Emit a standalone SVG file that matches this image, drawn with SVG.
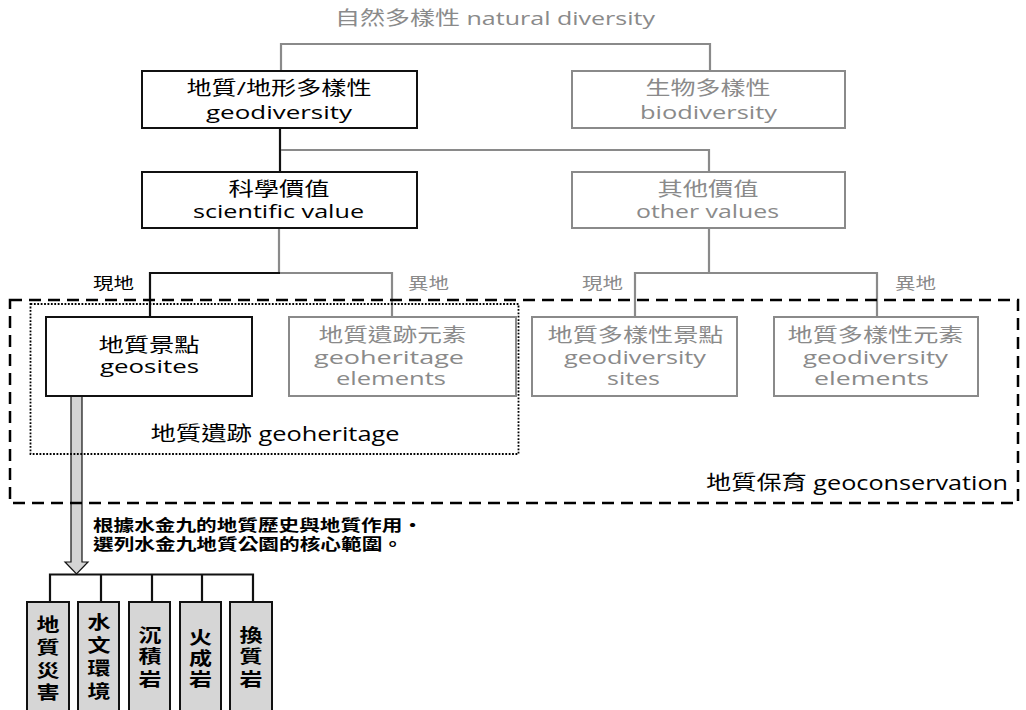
<svg xmlns="http://www.w3.org/2000/svg" width="1026" height="710" viewBox="0 0 1026 710">
<style>
text{font-family:"Open Sans","Noto Sans CJK TC",sans-serif;}
.c{text-anchor:middle;}
.t{font-size:19px;}
.g{fill:#8a8a8a;}
.k{fill:#000;}
.s{font-size:16px;}
.b{font-weight:bold;font-family:"Noto Sans CJK TC","Noto Sans",sans-serif;}
.v{font-size:18px;font-weight:bold;font-family:"Noto Sans CJK TC",sans-serif;text-anchor:middle;}
.bx{fill:#fff;stroke-width:2;}
.bk{stroke:#111;}
.gr{stroke:#8a8a8a;}
.ln{fill:none;stroke-width:2.2;}
.cat{fill:#d6d6d6;stroke:#111;stroke-width:2;}
</style>
<rect width="1026" height="710" fill="#fff"/>
<g id="connectors">
<path class="ln gr" d="M281 71 V44 H710 V71"/>
<path class="ln bk" d="M280 128 V172"/>
<path class="ln gr" d="M281 150 H709 V172"/>
<path class="ln gr" d="M279 228 V273 H392 V317"/>
<path class="ln bk" d="M280 273 H150 V317"/>
<path class="ln gr" d="M709 228 V273 M635 317 V273 H877 V317"/>
<path d="M71 396 V562 H65 L76.5 574 L88 562 H82 V396 Z" fill="#d4d4d4" stroke="#111" stroke-width="1.2"/>
<path class="ln bk" stroke-width="2.6" d="M50 602 V574.5 H253 V602 M101 574.5 V602 M152 574.5 V602 M202 574.5 V602"/>
</g>
<g id="title"><text class="g c" x="495" y="25" font-size="19" textLength="320" lengthAdjust="spacingAndGlyphs">自然多樣性 natural diversity</text></g>
<g id="geoconservation">
<rect x="10" y="300" width="1008" height="203" fill="none" stroke="#000" stroke-width="2.5" stroke-dasharray="12,7"/>
<text class="k c" x="857" y="490" font-size="20" textLength="302" lengthAdjust="spacingAndGlyphs">地質保育 geoconservation</text>
</g>
<g id="geoheritage">
<rect x="30.5" y="304" width="488" height="150" fill="none" stroke="#000" stroke-width="1.8" stroke-dasharray="1.8,1.6"/>
<text class="k c" x="275" y="441" font-size="20" textLength="249" lengthAdjust="spacingAndGlyphs">地質遺跡 geoheritage</text>
</g>
<g id="geodiversity">
<rect class="bx bk" x="142" y="71" width="275" height="57"/>
<text class="k c t" x="279" y="95" textLength="185" lengthAdjust="spacingAndGlyphs">地質/地形多樣性</text>
<text class="k c t" x="279" y="119" textLength="146" lengthAdjust="spacingAndGlyphs">geodiversity</text>
</g>
<g id="biodiversity">
<rect class="bx gr" x="572" y="71" width="273" height="57"/>
<text class="g c t" x="708" y="95" textLength="125" lengthAdjust="spacingAndGlyphs">生物多樣性</text>
<text class="g c t" x="708.5" y="119" textLength="137" lengthAdjust="spacingAndGlyphs">biodiversity</text>
</g>
<g id="scientific">
<rect class="bx bk" x="142" y="172" width="275" height="56"/>
<text class="k c t" x="279" y="196" textLength="101" lengthAdjust="spacingAndGlyphs">科學價值</text>
<text class="k c t" x="278.5" y="218" textLength="171" lengthAdjust="spacingAndGlyphs">scientific value</text>
</g>
<g id="other">
<rect class="bx gr" x="572" y="172" width="273" height="56"/>
<text class="g c t" x="708" y="196" textLength="101" lengthAdjust="spacingAndGlyphs">其他價值</text>
<text class="g c t" x="707.5" y="218" textLength="143" lengthAdjust="spacingAndGlyphs">other values</text>
</g>
<g id="labels">
<text class="k s" x="93" y="289" textLength="41" lengthAdjust="spacingAndGlyphs">現地</text>
<text class="g s" x="408" y="289" textLength="41" lengthAdjust="spacingAndGlyphs">異地</text>
<text class="g s" x="582" y="289" textLength="41" lengthAdjust="spacingAndGlyphs">現地</text>
<text class="g s" x="895" y="289" textLength="41" lengthAdjust="spacingAndGlyphs">異地</text>
</g>
<g id="geosites">
<rect class="bx bk" x="46" y="317" width="206" height="79"/>
<text class="k c t" x="149" y="352" textLength="101" lengthAdjust="spacingAndGlyphs">地質景點</text>
<text class="k c t" x="149.5" y="373" textLength="99" lengthAdjust="spacingAndGlyphs">geosites</text>
</g>
<g id="geoheritage-elements">
<rect class="bx gr" x="289" y="317" width="227" height="79"/>
<text class="g c t" x="392.5" y="342" textLength="148" lengthAdjust="spacingAndGlyphs">地質遺跡元素</text>
<text class="g c t" x="389" y="364" textLength="150" lengthAdjust="spacingAndGlyphs">geoheritage</text>
<text class="g c t" x="391" y="385" textLength="110" lengthAdjust="spacingAndGlyphs">elements</text>
</g>
<g id="geodiversity-sites">
<rect class="bx gr" x="532" y="317" width="205" height="79"/>
<text class="g c t" x="635.5" y="342" textLength="176" lengthAdjust="spacingAndGlyphs">地質多樣性景點</text>
<text class="g c t" x="635" y="364" textLength="142" lengthAdjust="spacingAndGlyphs">geodiversity</text>
<text class="g c t" x="633.5" y="385" textLength="53" lengthAdjust="spacingAndGlyphs">sites</text>
</g>
<g id="geodiversity-elements">
<rect class="bx gr" x="774" y="317" width="204" height="79"/>
<text class="g c t" x="875.5" y="342" textLength="176" lengthAdjust="spacingAndGlyphs">地質多樣性元素</text>
<text class="g c t" x="875.5" y="364" textLength="145" lengthAdjust="spacingAndGlyphs">geodiversity</text>
<text class="g c t" x="871.5" y="385" textLength="115" lengthAdjust="spacingAndGlyphs">elements</text>
</g>
<g id="note">
<text class="k b s" x="93" y="531" textLength="330" lengthAdjust="spacingAndGlyphs">根據水金九的地質歷史與地質作用・</text>
<text class="k b s" x="93" y="549.5" textLength="310" lengthAdjust="spacingAndGlyphs">選列水金九地質公園的核心範圍。</text>
</g>
<g id="cat1">
<rect class="cat" x="27" y="602" width="42" height="120"/>
<text class="v" x="48" y="631" textLength="23" lengthAdjust="spacingAndGlyphs">地</text>
<text class="v" x="48" y="654" textLength="23" lengthAdjust="spacingAndGlyphs">質</text>
<text class="v" x="48" y="677" textLength="23" lengthAdjust="spacingAndGlyphs">災</text>
<text class="v" x="48" y="699" textLength="23" lengthAdjust="spacingAndGlyphs">害</text>
</g>
<g id="cat2">
<rect class="cat" x="78" y="602" width="41" height="120"/>
<text class="v" x="99" y="629" textLength="23" lengthAdjust="spacingAndGlyphs">水</text>
<text class="v" x="99" y="652" textLength="23" lengthAdjust="spacingAndGlyphs">文</text>
<text class="v" x="99" y="675" textLength="23" lengthAdjust="spacingAndGlyphs">環</text>
<text class="v" x="99" y="698" textLength="23" lengthAdjust="spacingAndGlyphs">境</text>
</g>
<g id="cat3">
<rect class="cat" x="129" y="602" width="41" height="120"/>
<text class="v" x="150" y="642" textLength="23" lengthAdjust="spacingAndGlyphs">沉</text>
<text class="v" x="150" y="663" textLength="23" lengthAdjust="spacingAndGlyphs">積</text>
<text class="v" x="150" y="686" textLength="23" lengthAdjust="spacingAndGlyphs">岩</text>
</g>
<g id="cat4">
<rect class="cat" x="180" y="602" width="41" height="120"/>
<text class="v" x="200.5" y="644" textLength="23" lengthAdjust="spacingAndGlyphs">火</text>
<text class="v" x="200.5" y="665" textLength="23" lengthAdjust="spacingAndGlyphs">成</text>
<text class="v" x="200.5" y="686" textLength="23" lengthAdjust="spacingAndGlyphs">岩</text>
</g>
<g id="cat5">
<rect class="cat" x="230" y="602" width="42" height="120"/>
<text class="v" x="251" y="642" textLength="23" lengthAdjust="spacingAndGlyphs">換</text>
<text class="v" x="251" y="663" textLength="23" lengthAdjust="spacingAndGlyphs">質</text>
<text class="v" x="251" y="686" textLength="23" lengthAdjust="spacingAndGlyphs">岩</text>
</g>
</svg>
